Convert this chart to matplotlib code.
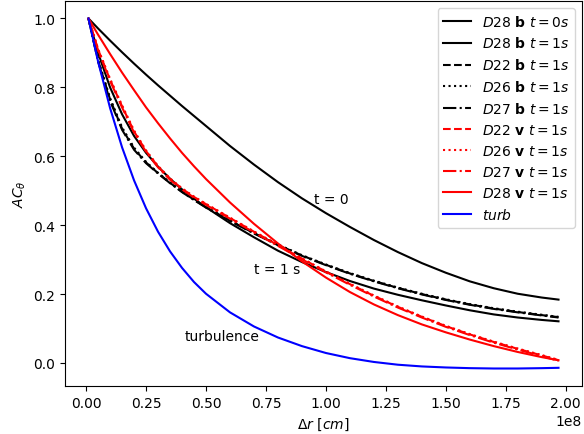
import numpy as np
import matplotlib
matplotlib.use('Agg')
import matplotlib.pyplot as plt


# separation in units of 1e8 cm
dr = [0.01, 0.05, 0.10, 0.15, 0.20, 0.25, 0.30, 0.35, 0.40, 0.45, 0.50, 0.60, 0.70,
      0.80, 0.90, 1.00, 1.10, 1.20, 1.30, 1.40, 1.50, 1.60, 1.70, 1.80, 1.90, 1.97]

#magnetic field autocorrelation
b28_t0 = [1.000, 0.971, 0.936, 0.902, 0.869, 0.837, 0.806, 0.776, 0.746, 0.717, 0.688, 0.630, 0.576,
          0.525, 0.478, 0.435, 0.395, 0.357, 0.322, 0.290, 0.262, 0.237, 0.217, 0.201, 0.190, 0.184]
b28_t1 = [1.000, 0.900, 0.800, 0.722, 0.659, 0.610, 0.570, 0.535, 0.504, 0.477, 0.452, 0.406, 0.365,
          0.326, 0.293, 0.264, 0.238, 0.216, 0.198, 0.182, 0.167, 0.153, 0.141, 0.132, 0.125, 0.121]
b22_t1 = [1.000, 0.878, 0.765, 0.680, 0.622, 0.582, 0.551, 0.523, 0.497, 0.474, 0.452, 0.413, 0.377,
          0.343, 0.312, 0.285, 0.260, 0.238, 0.218, 0.200, 0.184, 0.170, 0.158, 0.148, 0.139, 0.133]
b26_t1 = [1.000, 0.881, 0.769, 0.684, 0.625, 0.584, 0.552, 0.524, 0.498, 0.475, 0.453, 0.414, 0.378,
          0.344, 0.313, 0.286, 0.261, 0.239, 0.219, 0.201, 0.185, 0.171, 0.159, 0.149, 0.140, 0.134]
b27_t1 = [1.000, 0.875, 0.761, 0.677, 0.619, 0.580, 0.550, 0.522, 0.496, 0.473, 0.451, 0.412, 0.376,
          0.342, 0.311, 0.284, 0.259, 0.237, 0.217, 0.199, 0.183, 0.169, 0.157, 0.147, 0.138, 0.132]

#velocity autocorrelation
v22_t1 = [1.000, 0.910, 0.822, 0.745, 0.672, 0.615, 0.570, 0.534, 0.506, 0.482, 0.461, 0.421, 0.381,
          0.342, 0.303, 0.265, 0.229, 0.195, 0.163, 0.134, 0.107, 0.083, 0.061, 0.041, 0.022, 0.008]
v26_t1 = [1.000, 0.912, 0.825, 0.748, 0.675, 0.617, 0.572, 0.536, 0.507, 0.483, 0.462, 0.422, 0.382,
          0.343, 0.304, 0.266, 0.230, 0.196, 0.164, 0.135, 0.108, 0.084, 0.062, 0.042, 0.023, 0.009]
v27_t1 = [1.000, 0.908, 0.819, 0.742, 0.669, 0.613, 0.568, 0.532, 0.504, 0.480, 0.459, 0.419, 0.379,
          0.340, 0.301, 0.263, 0.227, 0.193, 0.161, 0.132, 0.105, 0.081, 0.059, 0.039, 0.020, 0.006]
v28_t1 = [1.000, 0.953, 0.897, 0.843, 0.792, 0.742, 0.696, 0.652, 0.610, 0.571, 0.534, 0.466, 0.404,
          0.347, 0.295, 0.248, 0.206, 0.170, 0.139, 0.112, 0.089, 0.068, 0.049, 0.032, 0.017, 0.008]

#turbulence
turb = [1.000, 0.875, 0.740, 0.626, 0.530, 0.449, 0.381, 0.324, 0.276, 0.235, 0.201, 0.147, 0.106,
        0.074, 0.049, 0.029, 0.014, 0.003, -0.005, -0.010, -0.013, -0.015, -0.016, -0.016, -0.015, -0.014]

x = np.array(dr) * 1e8

fig = plt.figure(figsize=(5.84, 4.35), dpi=100)
ax = fig.add_axes([65/584, 48/435, 517/584, 385/435])

ax.plot(x, b28_t0, 'k-', label=r'$D28\ \mathbf{b}\ t=0s$')
ax.plot(x, b28_t1, 'k-', label=r'$D28\ \mathbf{b}\ t=1s$')
ax.plot(x, b22_t1, 'k--', label=r'$D22\ \mathbf{b}\ t=1s$')
ax.plot(x, b26_t1, 'k:', label=r'$D26\ \mathbf{b}\ t=1s$')
ax.plot(x, b27_t1, 'k-.', label=r'$D27\ \mathbf{b}\ t=1s$')
ax.plot(x, v22_t1, 'r--', label=r'$D22\ \mathbf{v}\ t=1s$')
ax.plot(x, v26_t1, 'r:', label=r'$D26\ \mathbf{v}\ t=1s$')
ax.plot(x, v27_t1, 'r-.', label=r'$D27\ \mathbf{v}\ t=1s$')
ax.plot(x, v28_t1, 'r-', label=r'$D28\ \mathbf{v}\ t=1s$')
ax.plot(x, turb, 'b-', label=r'$turb$')

ax.text(0.95e8, 0.476, 't = 0', va='center')
ax.text(0.70e8, 0.273, 't = 1 s', va='center')
ax.text(0.41e8, 0.077, 'turbulence', va='center')

ax.set_xlabel(r'$\Delta r\ [cm]$')
ax.set_ylabel(r'$AC_\theta$')
ax.legend(loc='upper right')

fig.savefig('out.png', dpi=100)
